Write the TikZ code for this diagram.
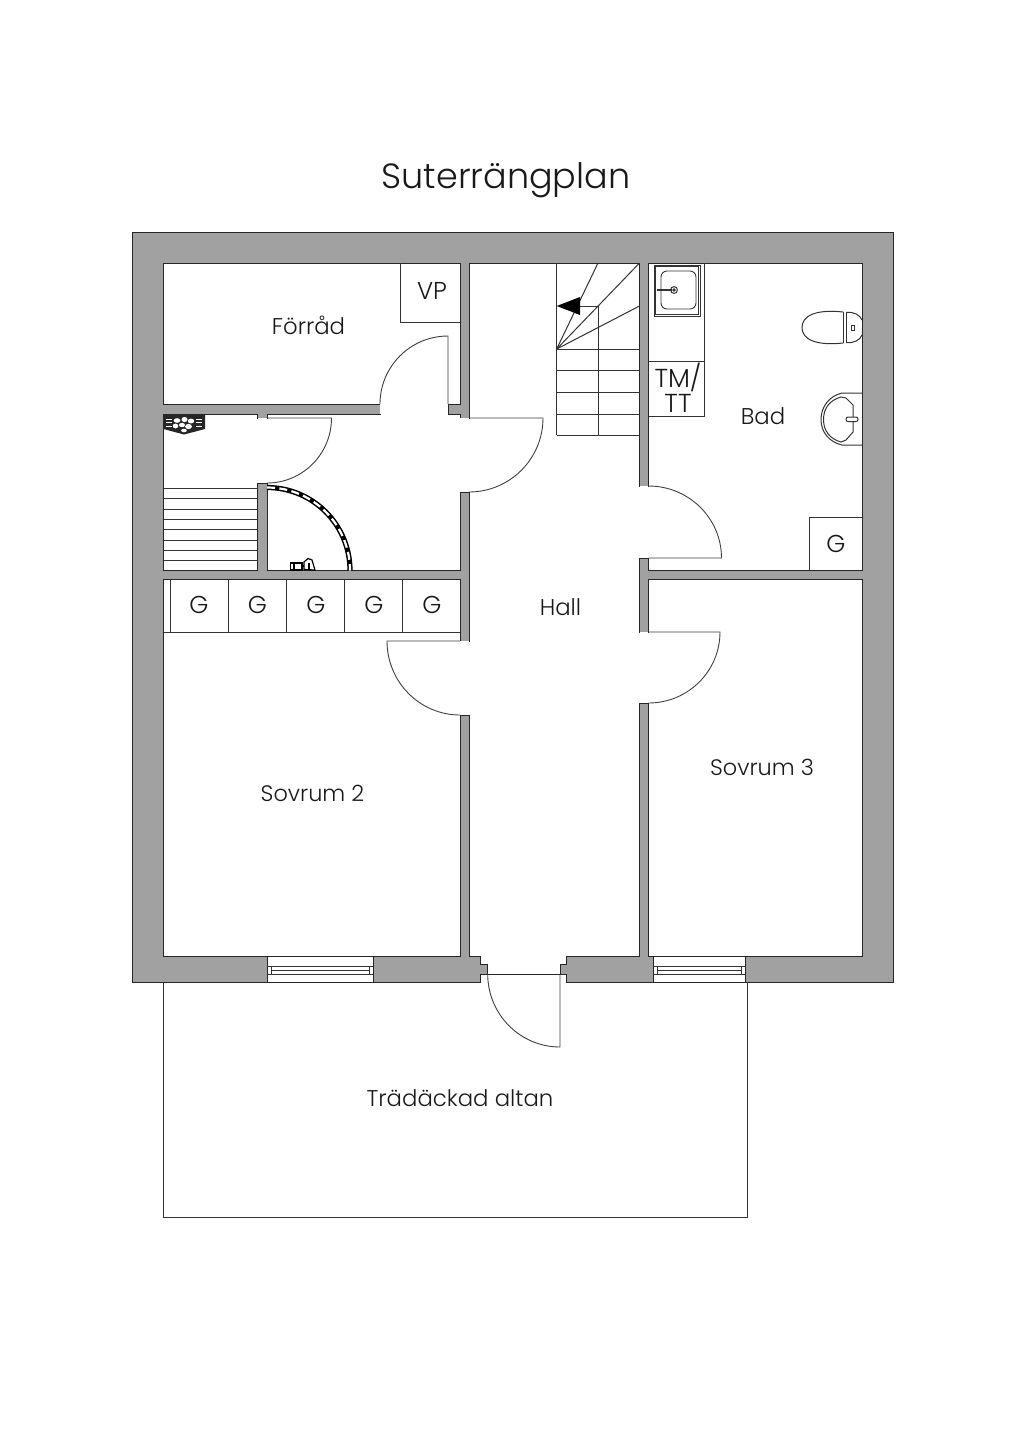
\documentclass[tikz,border=0pt]{standalone}
\usepackage{fontspec}
\setmainfont{Poppins}[UprightFont=* Light]
\tikzset{
	wall/.style = {draw=black!85, line width=0.5pt, fill=black!37, line join=miter},
	room/.style = {draw=black!85, line width=0.5pt, fill=white, line join=miter},
	fix/.style = {draw=black!80, line width=0.5pt},
	door/.style = {draw=black!75, line width=0.45pt},
	lbl/.style = {font=\fontsize{11.4pt}{14pt}\selectfont, text=black!90, inner sep=0pt, align=center},
	caps/.style = {font=\fontsize{12.2pt}{12.6pt}\selectfont, text=black!90, inner sep=0pt, align=center},
}
\begin{document}
\begin{tikzpicture}[x=0.5pt, y=-0.5pt]
	\useasboundingbox (0,0) rectangle (1024,1448);
	% walls
	\path[wall] (132,232) -- (893,232) -- (893,982) -- (566.7,982) -- (566.7,974) -- (480.7,974) -- (480.7,982) -- (132,982) -- cycle;
	% rooms, all joined through the door gaps
	\path[room] (163.5,263) -- (460,263) -- (460,404) -- (448,404) -- (448,414) -- (460,414) -- (460,418) -- (469,418)
		-- (469,263) -- (639.5,263) -- (639.5,486) -- (648.5,486) -- (648.5,263) -- (862,263) -- (862,570)
		-- (648.5,570) -- (648.5,558) -- (639.5,558) -- (639.5,632) -- (648.5,632) -- (648.5,579.5) -- (862,579.5)
		-- (862,956) -- (648.5,956) -- (648.5,703) -- (639.5,703) -- (639.5,956) -- (566.7,956) -- (566.7,964)
		-- (560,964) -- (560,974) -- (487.7,974) -- (487.7,964) -- (480.7,964) -- (480.7,956) -- (469,956)
		-- (469,715) -- (460,715) -- (460,956) -- (163.5,956) -- (163.5,579.5) -- (460,579.5) -- (460,641)
		-- (469,641) -- (469,492) -- (460,492) -- (460,570) -- (267,570) -- (267,483) -- (257.5,483)
		-- (257.5,570) -- (163.5,570) -- (163.5,414) -- (257.5,414) -- (257.5,418) -- (267,418) -- (267,414)
		-- (380,414) -- (380,404) -- (163.5,404) -- cycle;
	% door gaps have no line across them
	\fill[white] (380.4,404.4) rectangle (447.6,413.6);
	\fill[white] (460.4,418.4) rectangle (468.6,491.6);
	\fill[white] (257.9,418.4) rectangle (266.6,482.6);
	\fill[white] (639.9,486.4) rectangle (648.1,557.6);
	\fill[white] (639.9,632.4) rectangle (648.1,702.6);
	\fill[white] (460.4,641.4) rectangle (468.6,714.6);
	% terrace
	\draw[fix] (163.5,982) -- (163.5,1217) -- (747.5,1217) -- (747.5,982);
	% windows
	\draw[room] (267,956) rectangle (373,982);
	\draw[fix] (271.7,966) rectangle (369,974) (271.7,970) -- (369,970) (267,966) -- (373,966) (267,974) -- (373,974);
	\draw[room] (653.3,956) rectangle (745.7,982);
	\draw[fix] (657.5,966) rectangle (741.5,974) (657.5,970) -- (741.5,970) (653.3,966) -- (745.7,966) (653.3,974) -- (745.7,974);
	% doors
	\draw[door] (448,404) -- (448,336) arc[start angle=270, end angle=180, radius=68];
	\draw[door] (267,418) -- (331.5,418) arc[start angle=0, end angle=90, x radius=64.5, y radius=65];
	\draw[door] (469,418) -- (543,418) arc[start angle=0, end angle=90, radius=74];
	\draw[door] (460,641) -- (387,641) arc[start angle=180, end angle=90, x radius=73, y radius=74];
	\draw[door] (648.5,558) -- (721.5,558) arc[start angle=0, end angle=-90, x radius=73, y radius=72];
	\draw[door] (648.5,632) -- (720,632) arc[start angle=0, end angle=90, x radius=71.5, y radius=71];
	\draw[door] (560,974) -- (560,1047) arc[start angle=90, end angle=180, x radius=72.3, y radius=73];
	% stairs
	\path[fix]
	(556.7,263) edge (556.7,435) (598,306) edge (598,435)
	(556.7,349) edge (639.5,349) (556.7,370) edge (639.5,370)
	(556.7,392) edge (639.5,392) (556.7,414) edge (639.5,414)
	(556.7,435) edge (639.5,435)
	(556.7,349) edge (598,263) (556.7,349) edge (639.5,263)
	(556.7,349) edge (639.5,306) (598,306) edge (578,306);
	\fill[black] (556.7,306) -- (580,297) -- (580,315) -- cycle;
	% steps
	\path[fix]
	(163.5,488.3) edge (257.5,488.3) (163.5,498.7) edge (257.5,498.7)
	(163.5,509) edge (257.5,509) (163.5,519.3) edge (257.5,519.3)
	(163.5,529.7) edge (257.5,529.7) (163.5,540) edge (257.5,540)
	(163.5,550) edge (257.5,550) (163.5,560.3) edge (257.5,560.3);
	% sauna stove
	\fill[black!85] (163.5,414) -- (205,414) -- (205,429) -- (184,434.5) -- (163.5,429) -- cycle;
	\draw[white, line width=0.5pt] (166,419) -- (172,419) (166,422.5) -- (172,422.5) (166,426) -- (172,426) (196,419) -- (202,419) (196,422.5) -- (202,422.5) (196,426) -- (202,426);
	\fill[white] (177,420.5) ellipse[x radius=3.4, y radius=2.3] (184.5,419.5) ellipse[x radius=3, y radius=2.6] (191,421) ellipse[x radius=3.2, y radius=2.4] (175.5,426) ellipse[x radius=2.8, y radius=2.4] (182,425) ellipse[x radius=3, y radius=2.2] (188.5,426.5) ellipse[x radius=3.4, y radius=2.6] (184,430.5) ellipse[x radius=2.8, y radius=1.8];
	% chain
	\draw[black, line width=2.6pt] (267,487.5) arc[start angle=270, end angle=360, radius=83];
	\draw[white, line width=1.1pt, dash pattern=on 4pt off 2.2pt] (267,487.5) arc[start angle=270, end angle=360, radius=83];
	% pump
	\draw[black, line width=0.6pt, fill=white] (290.5,563) rectangle (302,570);
	\draw[black, line width=0.6pt, fill=white] (304,569.5) -- (304,562) -- (308,558.5) -- (312,560) -- (315,570) -- cycle;
	\draw[black, line width=0.6pt] (294,563) -- (294,570) (302,566) -- (304,566) (309,563) -- (309,570);
	% counter
	\draw[fix] (648.5,361) -- (704,361) (704,263) -- (704,416) -- (648.5,416);
	\draw[fix, line width=0.45pt] (654,265) rectangle (700,316);
	\draw[fix, line width=0.45pt] (655.5,266.5) rectangle (698.5,314.5);
	\draw[fix, line width=0.45pt, rounded corners=3pt] (661,271) rectangle (696,309);
	\draw[fix] (674,290) circle[radius=3.4];
	\draw[fix, fill=black] (674,290) circle[radius=1.2];
	\draw[fix, line width=0.8pt] (657,290) -- (672,290);
	% toilet
	\draw[fix] (843.3,312) .. controls (815,309) and (802,316) .. (802,327.5) .. controls (802,339) and (815,346) .. (843.3,343);
	\draw[fix] (843.3,312) -- (843.3,343) (846,312) -- (846,343);
	\draw[fix] (846,312.5) .. controls (854,311.5) and (860,315) .. (862,320);
	\draw[fix] (846,342.5) .. controls (854,343.5) and (860,340) .. (862,335);
	\draw[fix] (851.5,325) rectangle (854.5,330);
	% basin
	\draw[fix] (862,393) -- (842,393) .. controls (829,396) and (821,407) .. (821,419.5) .. controls (821,432) and (829,442) .. (842,445) -- (862,445);
	\draw[fix] (853,405) -- (853,432) -- (846,440) -- (841,442) .. controls (830,439) and (823.5,431) .. (823.5,419.5) .. controls (823.5,408) and (830,400) .. (841,397) -- (846,398) -- cycle;
	\draw[fix, fill=white, rounded corners=1pt] (846,417) rectangle (858,421.5);
	% boxes
	\draw[fix] (400.7,263) -- (400.7,322.7) -- (460,322.7);
	\draw[fix] (809,570) -- (809,517) -- (862,517);
	\draw[fix] (163.5,632) -- (460,632);
	\path[fix]
	(170,579.5) edge (170,632) (228,579.5) edge (228,632)
	(286,579.5) edge (286,632) (344,579.5) edge (344,632)
	(402,579.5) edge (402,632);
	% labels
	\node[lbl, font=\fontsize{17.5pt}{22pt}\selectfont] (title) at (506,180) {Suterrängplan};
	\node[lbl] (forrad) at (308.5,325.5) {Förråd};
	\node[caps] (vp) at (432,291) {VP};
	\node[caps] (g1) at (199,605) {G};
	\node[caps] (g2) at (257.5,605) {G};
	\node[caps] (g3) at (316,605) {G};
	\node[caps] (g4) at (374,605) {G};
	\node[caps] (g5) at (432,605) {G};
	\node[caps] (g6) at (836,543.5) {G};
	\node[caps, font=\fontsize{13pt}{12.6pt}\selectfont] (tmtt) at (678,388) {TM/\\TT};
	\node[lbl] (bad) at (763,416.5) {Bad};
	\node[lbl] (hall) at (560.5,607.5) {Hall};
	\node[lbl, font=\fontsize{11.2pt}{14pt}\selectfont] (sov2) at (312.5,793) {Sovrum 2};
	\node[lbl, font=\fontsize{11.2pt}{14pt}\selectfont] (sov3) at (762,767) {Sovrum 3};
	\node[lbl] (altan) at (460,1098.5) {Trädäckad altan};
\end{tikzpicture}
\end{document}
